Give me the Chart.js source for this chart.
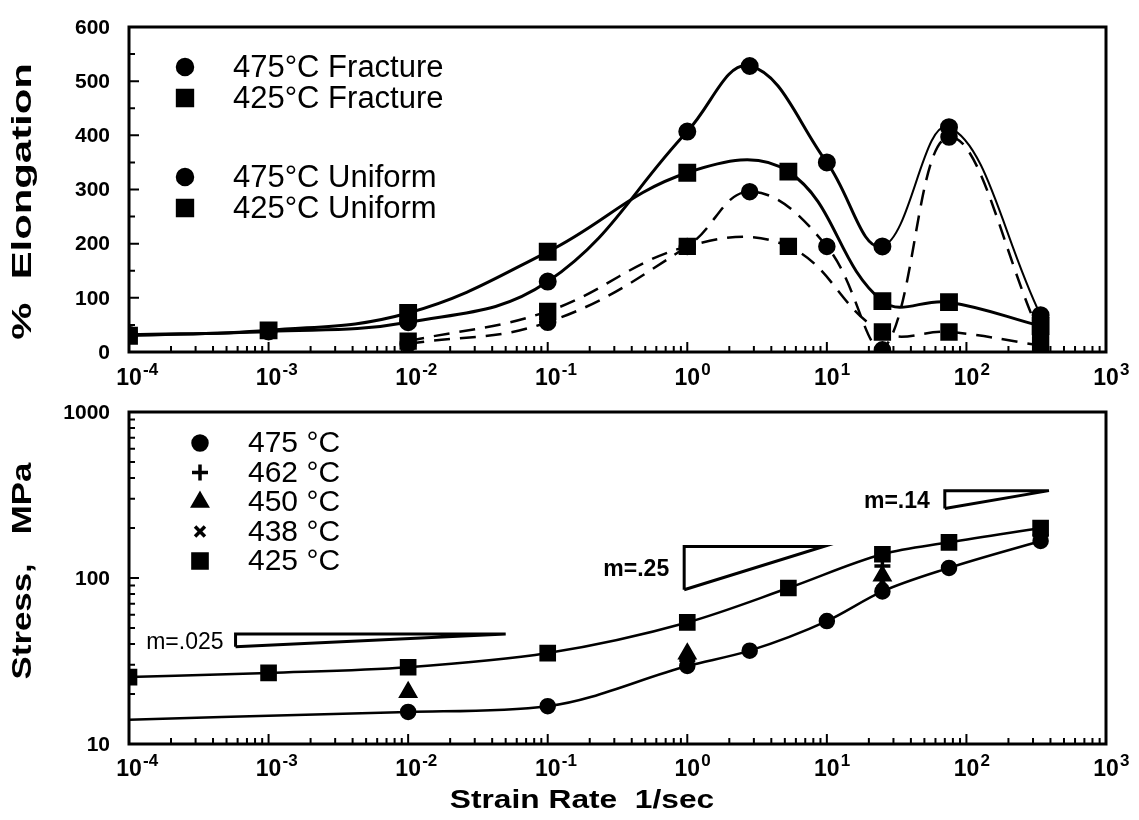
<!DOCTYPE html>
<html>
<head>
<meta charset="utf-8">
<script src="https://cdn.jsdelivr.net/npm/chart.js@4.4.0/dist/chart.umd.min.js"></script>
<style>
  html, body { margin: 0; padding: 0; background: #fff; }
  #wrap { position: relative; width: 1139px; height: 820px; }
  .box { position: absolute; left: 0; width: 1139px; }
  #top { top: 0; height: 392px; }
  #bot { top: 392px; height: 428px; }
</style>
</head>
<body>
<div id="wrap">
  <div class="box" id="top"><canvas id="elong"></canvas></div>
  <div class="box" id="bot"><canvas id="stress"></canvas></div>
</div>
<script>
// ---- data ----
// top panel: % elongation vs strain rate (1/sec)
const rates475F = [1e-4, 1e-3, 1e-2, 0.1, 1, 2.8, 10, 25, 75, 340];
const elong475F = [32, 38, 55, 130, 407, 528, 350, 195, 415, 68];
const rates425F = [1e-4, 1e-3, 1e-2, 0.1, 1, 5.3, 25, 75, 340];
const elong425F = [30, 40, 72, 185, 331, 333, 94, 92, 48];
const rates475U = [1e-2, 0.1, 1, 2.8, 10, 25, 75, 340];
const elong475U = [15, 55, 195, 296, 195, 4, 397, 30];
const rates425U = [1e-2, 0.1, 1, 5.3, 25, 75, 340];
const elong425U = [20, 75, 195, 195, 37, 37, 12];

// bottom panel: flow stress (MPa) vs strain rate
const rates475 = [1e-4, 1e-2, 0.1, 1, 2.8, 10, 25, 75, 340];
const stress475 = [14, 15.6, 16.9, 29.5, 36.5, 55, 83, 115, 167];
const rates462 = [1, 25, 340];
const stress462 = [32, 118, 180];
const rates450 = [1e-2, 1, 25];
const stress450 = [20.5, 35, 103];
const rates438 = [25, 340];
const stress438 = [95, 190];
const rates425 = [1e-4, 1e-3, 1e-2, 0.1, 1, 5.3, 25, 75, 340];
const stress425 = [25.3, 26.8, 29, 35.3, 54, 87, 139, 164, 200];

// strain-rate sensitivity triangles (bottom-left, top-left, tip)
const slopeLabels = ['m=.025', 'm=.25', 'm=.14'];
const slopeX = [[5.8e-4, 5.8e-4, 0.05], [0.95, 0.95, 9.5], [70, 70, 390]];
const slopeY = [[38.5, 46, 46], [85, 155, 155], [262, 336, 336]];

// axis ticks / labels
const xExponents = [-4, -3, -2, -1, 0, 1, 2, 3];
const elongTicks = [0, 100, 200, 300, 400, 500, 600];
const stressTicks = [10, 100, 1000];

const topLegend = ['475°C Fracture', '425°C Fracture', '475°C Uniform', '425°C Uniform'];
const botLegend = ['475 °C', '462 °C', '450 °C', '438 °C', '425 °C'];

// ---- helpers ----
const INK = '#000';
const FONT = "'Liberation Sans', Arial, sans-serif";
const pts = (xs, ys) => xs.map((x, i) => ({ x: x, y: ys[i] }));

Chart.defaults.font.family = FONT;
Chart.defaults.color = INK;
Chart.defaults.animation = false;

// frame, inward ticks, tick labels, stretched axis titles, legend
function frameTicksPlugin(cfg) {
    return {
        id: 'frameTicks',
        afterDraw(chart) {
            const ctx = chart.ctx;
            const a = chart.chartArea;
            const xs = chart.scales.x, ys = chart.scales.y;
            ctx.save();
            ctx.strokeStyle = INK;
            ctx.lineWidth = 3;
            ctx.strokeRect(a.left, a.top, a.right - a.left, a.bottom - a.top);

            // x ticks (log), pointing up into the plot
            ctx.lineWidth = 2;
            ctx.beginPath();
            for (let e = -4; e < 3; e++) {
                for (let m = 1; m <= 9; m++) {
                    const px = xs.getPixelForValue(m * Math.pow(10, e));
                    const len = m === 1 ? 10 : 6;
                    ctx.moveTo(px, a.bottom);
                    ctx.lineTo(px, a.bottom - len);
                }
            }
            // y ticks on the left, pointing right
            cfg.yTicks.forEach(t => {
                const py = ys.getPixelForValue(t.v);
                ctx.moveTo(a.left, py);
                ctx.lineTo(a.left + t.len, py);
            });
            ctx.stroke();

            // y labels
            ctx.fillStyle = INK;
            ctx.font = 'bold 21px ' + FONT;
            ctx.textAlign = 'right';
            ctx.textBaseline = 'middle';
            cfg.yLabels.forEach(v => {
                ctx.fillText(String(v), a.left - 19, ys.getPixelForValue(v) + 1);
            });

            // x labels: 10 with superscript exponent
            xExponents.forEach(e => {
                const px = xs.getPixelForValue(Math.pow(10, e));
                const base = a.bottom + cfg.labelDrop;
                ctx.font = 'bold 23px ' + FONT;
                ctx.textAlign = 'center';
                ctx.textBaseline = 'alphabetic';
                ctx.fillText('10', px, base);
                ctx.font = 'bold 17px ' + FONT;
                ctx.textAlign = 'left';
                ctx.fillText(e < 0 ? '-' + (-e) : String(e), px + 14, base - 10);
            });

            // axis titles
            ctx.font = 'bold 27px ' + FONT;
            ctx.textAlign = 'center';
            ctx.textBaseline = 'middle';
            ctx.save();
            ctx.translate(cfg.yTitleX, (a.top + a.bottom) / 2 + cfg.yTitleShift);
            ctx.rotate(-Math.PI / 2);
            ctx.scale(cfg.yTitleStretch, 1);
            ctx.fillText(cfg.yTitle, 0, 0);
            ctx.restore();
            if (cfg.xTitle) {
                ctx.save();
                ctx.translate(cfg.xTitleX, a.bottom + cfg.xTitleDrop);
                ctx.scale(1.22, 1);
                ctx.font = 'bold 26px ' + FONT;
                ctx.fillText(cfg.xTitle, 0, 0);
                ctx.restore();
            }

            // legend
            const lg = cfg.legend;
            lg.labels.forEach((lab, i) => {
                const y = lg.y0 + i * lg.dy + (lg.gapAfter != null && i > lg.gapAfter ? lg.gap : 0);
                ctx.fillStyle = INK;
                ctx.strokeStyle = INK;
                ctx.lineWidth = 3.5;
                Chart.helpers.drawPoint(ctx, {
                    pointStyle: lg.styles[i],
                    radius: lg.radius[i],
                    borderWidth: 3.5
                }, lg.x, y);
                ctx.font = lg.font;
                ctx.textAlign = 'left';
                ctx.textBaseline = 'middle';
                ctx.fillText(lab, lg.textX, y + 1);
            });
            ctx.restore();
        }
    };
}

const axisFit = (w) => (s) => { s.width = w; };
const axisH = (h) => (s) => { s.height = h; };

// ---- top panel ----
const solid = (label, data, style, r, thinFrom) => ({
    label, data, borderColor: INK, backgroundColor: INK,
    borderWidth: 3, tension: 0.4, pointStyle: style, pointRadius: r, pointHoverRadius: r,
    segment: { borderWidth: (c) => (thinFrom != null && c.p0DataIndex >= thinFrom ? 2 : 3) }
});
const dashed = (label, data, style, r) => ({
    label, data, borderColor: INK, backgroundColor: INK,
    borderWidth: 2.5, borderDash: [16, 10], tension: 0.4,
    pointStyle: style, pointRadius: r, pointHoverRadius: r
});

const topYTicks = [];
for (let v = 0; v <= 600; v += 50) topYTicks.push({ v: v, len: v % 100 === 0 ? 10 : 6 });

new Chart(document.getElementById('elong'), {
    type: 'line',
    data: {
        datasets: [
            solid('475°C Fracture', pts(rates475F, elong475F), 'circle', 7.5, 7),
            solid('425°C Fracture', pts(rates425F, elong425F), 'rect', 10.5),
            dashed('475°C Uniform', pts(rates475U, elong475U), 'circle', 7.5),
            dashed('425°C Uniform', pts(rates425U, elong425U), 'rect', 10.5)
        ]
    },
    options: {
        responsive: true,
        maintainAspectRatio: false,
        layout: { padding: { left: 0, right: 33, top: 27, bottom: 0 } },
        plugins: { legend: { display: false }, tooltip: { enabled: false } },
        scales: {
            x: {
                type: 'logarithmic', min: 1e-4, max: 1e3,
                grid: { display: false }, border: { display: false },
                ticks: { display: false },
                afterFit: axisH(40)
            },
            y: {
                min: 0, max: 600,
                grid: { display: false, drawTicks: false }, border: { display: false },
                ticks: { display: false },
                afterFit: axisFit(129)
            }
        }
    },
    plugins: [frameTicksPlugin({
        yTicks: topYTicks,
        yLabels: elongTicks,
        labelDrop: 33,
        yTitle: '%  Elongation', yTitleX: 24, yTitleShift: 12, yTitleStretch: 1.55,
        legend: {
            labels: topLegend, styles: ['circle', 'rect', 'circle', 'rect'],
            radius: [7.5, 10.5, 7.5, 10.5],
            x: 185, textX: 233, y0: 67, dy: 31, gapAfter: 1, gap: 48,
            font: '31px ' + FONT
        }
    })]
});

// ---- bottom panel ----
const stressLine = (label, data, style, r) => ({
    label, data, borderColor: INK, backgroundColor: INK,
    borderWidth: 2.5, cubicInterpolationMode: 'monotone', pointStyle: style,
    pointRadius: (c) => (label === '475 °C' && c.dataIndex === 0 ? 0 : r), pointHoverRadius: r
});
const stressMarks = (label, data, style, r) => ({
    label, data, borderColor: INK, backgroundColor: INK, showLine: false,
    pointStyle: style, pointRadius: r, pointBorderWidth: 3.5
});
const slopeSets = slopeLabels.map((lab, i) => {
    const xs = slopeX[i].concat([slopeX[i][0]]);
    const ys = slopeY[i].concat([slopeY[i][0]]);
    return {
        label: lab, data: pts(xs, ys), borderColor: INK, borderWidth: 3,
        pointRadius: 0, tension: 0, fill: false
    };
});

const botYTicks = [];
[10, 100].forEach(d => { for (let m = 1; m < 10; m++) botYTicks.push({ v: m * d, len: m === 1 ? 10 : 6 }); });

const slopeLabelPlugin = {
    id: 'slopeLabels',
    afterDatasetsDraw(chart) {
        const ctx = chart.ctx, xs = chart.scales.x, ys = chart.scales.y;
        ctx.save();
        ctx.fillStyle = INK;
        ctx.textAlign = 'right';
        ctx.textBaseline = 'middle';
        slopeLabels.forEach((lab, i) => {
            const px = xs.getPixelForValue(slopeX[i][0]);
            const py = (ys.getPixelForValue(slopeY[i][0]) + ys.getPixelForValue(slopeY[i][1])) / 2;
            ctx.font = (i === 0 ? '23px ' : 'bold 23px ') + FONT;
            ctx.fillText(lab, px - (i === 0 ? 12 : 15), py + 2);
        });
        ctx.restore();
    }
};

new Chart(document.getElementById('stress'), {
    type: 'line',
    data: {
        datasets: [
            stressLine('475 °C', pts(rates475, stress475), 'circle', 7),
            stressMarks('462 °C', pts(rates462, stress462), 'cross', 8),
            stressMarks('450 °C', pts(rates450, stress450), 'triangle', 8),
            stressMarks('438 °C', pts(rates438, stress438), 'crossRot', 7),
            stressLine('425 °C', pts(rates425, stress425), 'rect', 10)
        ].concat(slopeSets)
    },
    options: {
        responsive: true,
        maintainAspectRatio: false,
        layout: { padding: { left: 0, right: 33, top: 20, bottom: 0 } },
        plugins: { legend: { display: false }, tooltip: { enabled: false } },
        scales: {
            x: {
                type: 'logarithmic', min: 1e-4, max: 1e3,
                grid: { display: false }, border: { display: false },
                ticks: { display: false },
                afterFit: axisH(76)
            },
            y: {
                type: 'logarithmic', min: 10, max: 1000,
                grid: { display: false, drawTicks: false }, border: { display: false },
                ticks: { display: false },
                afterFit: axisFit(129)
            }
        }
    },
    plugins: [slopeLabelPlugin, frameTicksPlugin({
        yTicks: botYTicks,
        yLabels: stressTicks,
        labelDrop: 32,
        yTitle: 'Stress,   MPa', yTitleX: 24, yTitleShift: -7, yTitleStretch: 1.29,
        xTitle: 'Strain Rate  1/sec', xTitleX: 582, xTitleDrop: 57,
        legend: {
            labels: botLegend, styles: ['circle', 'cross', 'triangle', 'crossRot', 'rect'],
            radius: [7, 8, 8, 7, 10],
            x: 200, textX: 248, y0: 51, dy: 29.5,
            font: '30px ' + FONT
        }
    })]
});
</script>
</body>
</html>
